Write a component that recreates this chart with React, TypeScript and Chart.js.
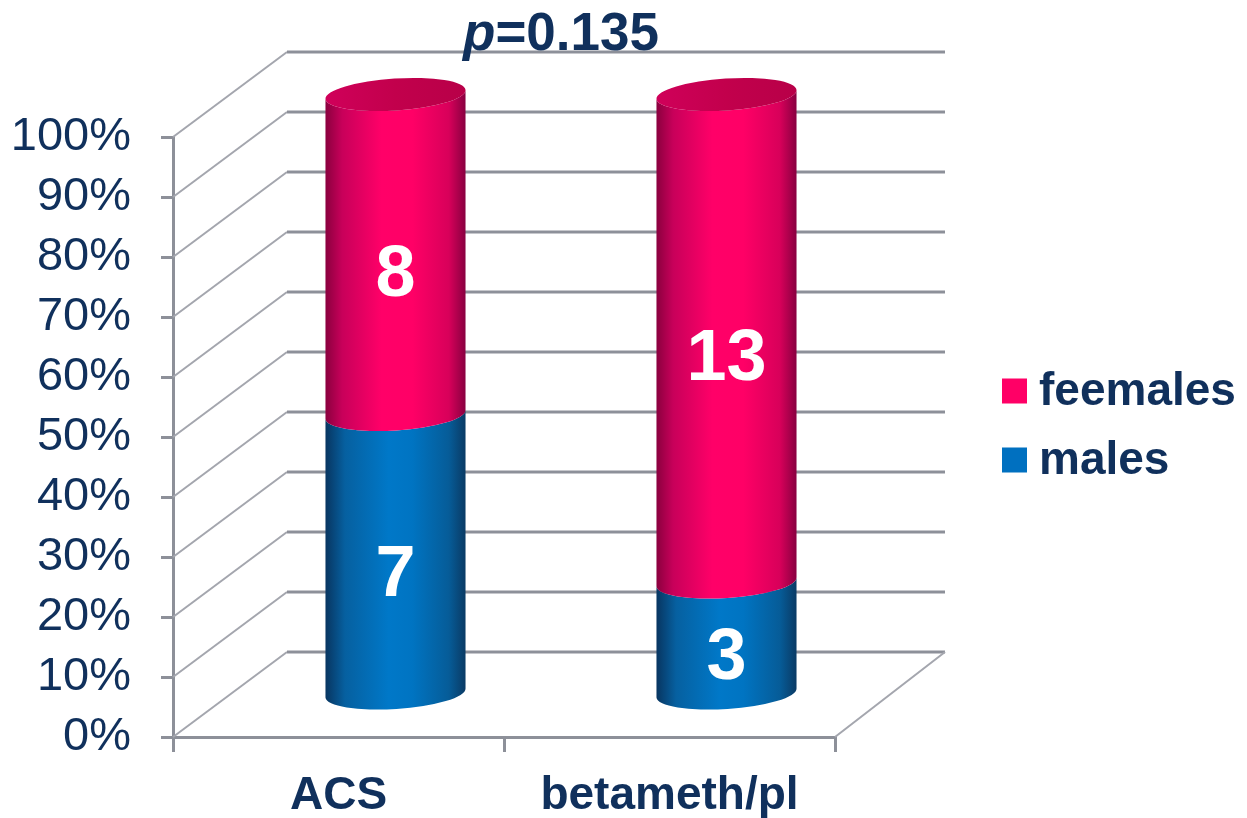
import React, { useEffect, useRef } from 'react';
import { Chart, registerables } from 'chart.js';

Chart.register(...registerables);

// ---- data ----
const categories = ['ACS', 'betameth/pl'];
const maleCounts = [7, 3];
const femaleCounts = [8, 13];
const seriesNames = ['males', 'feemales'];
const titleItalic = 'p';
const titleRest = '=0.135';

// ---- styles ----
const FONT = '"Liberation Sans", Arial, sans-serif';
const NAVY = '#10305c';
const GRID = '#8d9099';
const DIAG = '#a4a6ae';
const PINK = '#ff0066';
const BLUE = '#0070c0';
const DX = 114;
const DY = -85;

const pct = (a: number[], b: number[]) => a.map((v, i) => (v / (a[i] + b[i])) * 100);
const malePct = pct(maleCounts, femaleCounts);
const femalePct = pct(femaleCounts, maleCounts);

const gradStops: Record<string, [number, string][]> = {
  pink: [
    [0, '#8a003e'],
    [0.12, '#c8005a'],
    [0.4, '#ff0068'],
    [0.62, '#ff0066'],
    [0.88, '#d8005a'],
    [1, '#880040'],
  ],
  blue: [
    [0, '#083560'],
    [0.14, '#0660a0'],
    [0.45, '#0078c8'],
    [0.62, '#0074c2'],
    [0.88, '#065c98'],
    [1, '#0a3a64'],
  ],
};

const threeD = {
  id: 'threeD',
  beforeDatasetsDraw(chart: any) {
    const { ctx, chartArea, scales } = chart;
    const y = scales.y;
    ctx.save();
    ctx.lineCap = 'butt';
    y.ticks.forEach((t: any) => {
      const py = y.getPixelForValue(t.value);
      ctx.strokeStyle = DIAG;
      ctx.lineWidth = 2;
      ctx.beginPath();
      ctx.moveTo(chartArea.left, py);
      ctx.lineTo(chartArea.left + DX, py + DY);
      ctx.stroke();
      ctx.strokeStyle = GRID;
      ctx.lineWidth = 3;
      ctx.beginPath();
      ctx.moveTo(chartArea.left + DX, py + DY);
      ctx.lineTo(chartArea.right + DX - 4, py + DY);
      ctx.stroke();
    });
    // floor right edge
    ctx.strokeStyle = DIAG;
    ctx.lineWidth = 2;
    ctx.beginPath();
    ctx.moveTo(chartArea.right, chartArea.bottom);
    ctx.lineTo(chartArea.right + DX - 4, chartArea.bottom + DY);
    ctx.stroke();
    ctx.restore();
  },
  beforeDatasetDraw() {
    return false;
  },
  afterDatasetsDraw(chart: any) {
    const { ctx, chartArea } = chart;
    const rot = -0.065;
    const ry = 16;
    ctx.save();
    const nDs = chart.data.datasets.length;
    for (let d = 0; d < nDs; d++) {
      const meta = chart.getDatasetMeta(d);
      const key = d === 0 ? 'blue' : 'pink';
      meta.data.forEach((el: any) => {
        const p = el.getProps(['x', 'y', 'base', 'width'], true);
        const cx = p.x + DX / 2;
        const rx = p.width / 2;
        const yTop = p.y + DY / 2;
        const yBot = p.base + DY / 2;
        const g = ctx.createLinearGradient(cx - rx, 0, cx + rx, 0);
        gradStops[key].forEach(([o, c]) => g.addColorStop(o, c));
        ctx.fillStyle = g;
        ctx.beginPath();
        ctx.ellipse(cx, yBot, rx, ry, rot, 0, Math.PI, false);
        ctx.ellipse(cx, yTop, rx, ry, rot, Math.PI, 0, true);
        ctx.closePath();
        ctx.fill();
        if (d === nDs - 1) {
          const tg = ctx.createLinearGradient(cx - rx, 0, cx + rx, 0);
          tg.addColorStop(0, '#d0005a');
          tg.addColorStop(0.5, '#c2004c');
          tg.addColorStop(1, '#b80048');
          ctx.fillStyle = tg;
          ctx.beginPath();
          ctx.ellipse(cx, yTop, rx, ry, rot, 0, Math.PI * 2);
          ctx.fill();
        }
      });
    }
    // value labels
    ctx.fillStyle = '#ffffff';
    ctx.font = `bold 72px ${FONT}`;
    ctx.textAlign = 'center';
    ctx.textBaseline = 'middle';
    for (let d = 0; d < nDs; d++) {
      const meta = chart.getDatasetMeta(d);
      const counts = d === 0 ? maleCounts : femaleCounts;
      meta.data.forEach((el: any, j: number) => {
        const p = el.getProps(['x', 'y', 'base'], true);
        const cx = p.x + DX / 2;
        const cy = (p.y + p.base) / 2 + DY / 2 + 20;
        ctx.fillText(String(counts[j]), cx, cy + 2);
      });
    }
    // legend (reverse order: top dataset first)
    ctx.textAlign = 'left';
    ctx.font = `bold 46px ${FONT}`;
    const legendItems = chart.data.datasets
      .map((ds: any) => ({ label: ds.label, color: ds.backgroundColor }))
      .reverse();
    legendItems.forEach((it: any, i: number) => {
      const yc = 391 + i * 69;
      ctx.fillStyle = it.color;
      ctx.fillRect(1002, yc - 12.5, 25, 25);
      ctx.fillStyle = NAVY;
      ctx.fillText(it.label, 1039, yc + 1);
    });
    // title
    ctx.textBaseline = 'alphabetic';
    ctx.font = `italic bold 53px ${FONT}`;
    const w1 = ctx.measureText(titleItalic).width;
    ctx.font = `bold 53px ${FONT}`;
    const w2 = ctx.measureText(titleRest).width;
    const tx = (chartArea.left + chartArea.right) / 2 + DX / 2 - (w1 + w2) / 2;
    ctx.fillStyle = NAVY;
    ctx.font = `italic bold 53px ${FONT}`;
    ctx.fillText(titleItalic, tx, 50);
    ctx.font = `bold 53px ${FONT}`;
    ctx.fillText(titleRest, tx + w1, 50);
    ctx.restore();
  },
};

export default function App() {
  const ref = useRef<HTMLCanvasElement>(null);
  useEffect(() => {
    if (!ref.current) return;
    const chart = new Chart(ref.current, {
      type: 'bar',
      data: {
        labels: categories,
        datasets: [
          { label: seriesNames[0], data: malePct, backgroundColor: BLUE },
          { label: seriesNames[1], data: femalePct, backgroundColor: PINK },
        ],
      },
      options: {
        animation: false,
        responsive: false,
        devicePixelRatio: 1,
        layout: { padding: { top: 137, right: 412, bottom: 0, left: 0 } },
        datasets: { bar: { categoryPercentage: 1, barPercentage: 0.424 } },
        plugins: { legend: { display: false }, tooltip: { enabled: false }, title: { display: false } },
        scales: {
          x: {
            stacked: true,
            offset: true,
            grid: { drawOnChartArea: false, drawTicks: true, tickLength: 15, color: GRID, lineWidth: 3, offset: true },
            border: { color: GRID, width: 3 },
            ticks: { font: { family: FONT, size: 46, weight: 'bold' }, color: NAVY, padding: 17, autoSkip: false, maxRotation: 0 },
            afterFit: (s: any) => {
              s.height = 81;
            },
          },
          y: {
            stacked: true,
            min: 0,
            max: 100,
            ticks: {
              stepSize: 10,
              autoSkip: false,
              callback: (v: any) => v + '%',
              font: { family: FONT, size: 47 },
              color: NAVY,
              padding: 30,
            },
            grid: { drawOnChartArea: false, drawTicks: true, tickLength: 12, color: GRID, lineWidth: 3 },
            border: { color: GRID, width: 3 },
            afterFit: (s: any) => {
              s.width = 173;
            },
          },
        },
      } as any,
      plugins: [threeD],
    });
    return () => chart.destroy();
  }, []);
  return (
    <div style={{ position: 'absolute', left: 0, top: 0, width: 1247, height: 818, background: '#fff' }}>
      <canvas ref={ref} width={1247} height={818} />
    </div>
  );
}
